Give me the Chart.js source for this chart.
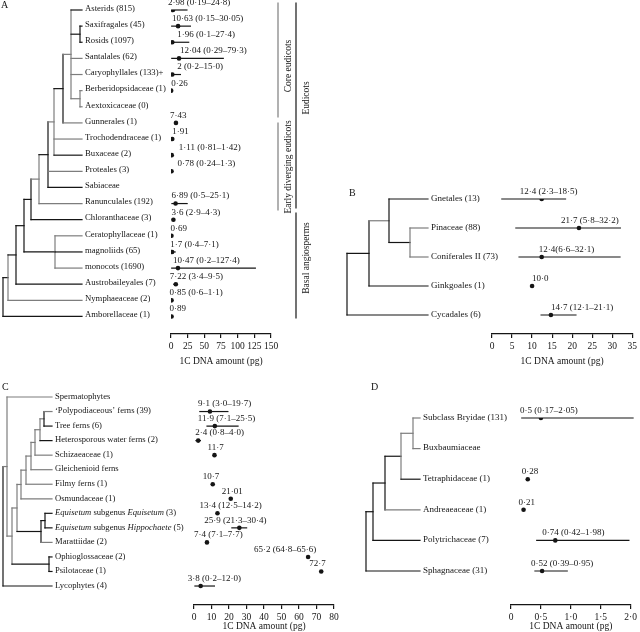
<!DOCTYPE html>
<html>
<head>
<meta charset="utf-8">
<script src="https://cdn.jsdelivr.net/npm/chart.js@4.4.0/dist/chart.umd.min.js"></script>
<style>
html, body { margin: 0; padding: 0; background: #fff; }
#wrap { position: relative; width: 640px; height: 632px; overflow: hidden; }
canvas { position: absolute; left: 0; top: 0; }
</style>
</head>
<body>
<div id="wrap">
  <canvas id="chartA" width="640" height="632"></canvas>
  <canvas id="chartB" width="640" height="632"></canvas>
  <canvas id="chartC" width="640" height="632"></canvas>
  <canvas id="chartD" width="640" height="632"></canvas>
</div>
<script>
// Panel A - angiosperms
var aNames = ['Asterids (815)', 'Saxifragales (45)', 'Rosids (1097)', 'Santalales (62)', 'Caryophyllales (133)+',
  'Berberidopsidaceae (1)', 'Aextoxicaceae (0)', 'Gunnerales (1)', 'Trochodendraceae (1)', 'Buxaceae (2)',
  'Proteales (3)', 'Sabiaceae', 'Ranunculales (192)', 'Chloranthaceae (3)', 'Ceratophyllaceae (1)',
  'magnoliids (65)', 'monocots (1690)', 'Austrobaileyales (7)', 'Nymphaeaceae (2)', 'Amborellaceae (1)'];
var aValues = [2.98, 10.63, 1.96, 12.04, 2, 0.26, null, 7.43, 1.91, 1.11, 0.78, null, 6.89, 3.6, 0.69, 1.7, 10.47, 7.22, 0.85, 0.89];
var aLow = [0.19, 0.15, 0.1, 0.29, 0.2, null, null, null, null, 0.81, 0.24, null, 0.5, 2.9, null, 0.4, 0.2, 3.4, 0.6, null];
var aHigh = [24.8, 30.05, 27.4, 79.3, 15.0, null, null, null, null, 1.42, 1.3, null, 25.1, 4.3, null, 7.1, 127.4, 9.5, 1.1, null];
var aLabels = ['2·98 (0·19–24·8)', '10·63 (0·15–30·05)', '1·96 (0·1–27·4)', '12·04 (0·29–79·3)', '2 (0·2–15·0)',
  '0·26', '', '7·43', '1·91', '1·11 (0·81–1·42)', '0·78 (0·24–1·3)', '', '6·89 (0·5–25·1)', '3·6 (2·9–4·3)',
  '0·69', '1·7 (0·4–7·1)', '10·47 (0·2–127·4)', '7·22 (3·4–9·5)', '0·85 (0·6–1·1)', '0·89'];
var aTicks = [0, 25, 50, 75, 100, 125, 150];
var aTickLabels = ['0', '25', '50', '75', '100', '125', '150'];

// Panel B - gymnosperms
var bNames = ['Gnetales (13)', 'Pinaceae (88)', 'Coniferales II (73)', 'Ginkgoales (1)', 'Cycadales (6)'];
var bValues = [12.4, 21.7, 12.4, 10.0, 14.7];
var bLow = [2.3, 5.8, 6.6, null, 12.1];
var bHigh = [18.5, 32.2, 32.1, null, 21.1];
var bLabels = ['12·4 (2·3–18·5)', '21·7 (5·8–32·2)', '12·4(6·6–32·1)', '10·0', '14·7 (12·1–21·1)'];
var bTicks = [0, 5, 10, 15, 20, 25, 30, 35];
var bTickLabels = ['0', '5', '10', '15', '20', '25', '30', '35'];

// Panel C - ferns and lycophytes (*...* = italic)
var cNames = ['Spermatophytes', '‘Polypodiaceous’ ferns (39)', 'Tree ferns (6)', 'Heterosporous water ferns (2)',
  'Schizaeaceae (1)', 'Gleichenioid ferns', 'Filmy ferns (1)', 'Osmundaceae (1)',
  '*Equisetum* subgenus *Equisetum* (3)', '*Equisetum* subgenus *Hippochaete* (5)', 'Marattiidae (2)',
  'Ophioglossaceae (2)', 'Psilotaceae (1)', 'Lycophytes (4)'];
var cValues = [null, 9.1, 11.9, 2.4, 11.7, null, 10.7, 21.01, 13.4, 25.9, 7.4, 65.2, 72.7, 3.8];
var cLow = [null, 3.0, 7.1, 0.8, null, null, null, null, 12.5, 21.3, 7.1, 64.8, null, 0.2];
var cHigh = [null, 19.7, 25.5, 4.0, null, null, null, null, 14.2, 30.4, 7.7, 65.6, null, 12.0];
var cLabels = ['', '9·1 (3·0–19·7)', '11·9 (7·1–25·5)', '2·4 (0·8–4·0)', '11·7', '', '10·7', '21·01',
  '13·4 (12·5–14·2)', '25·9 (21·3–30·4)', '7·4 (7·1–7·7)', '65·2 (64·8–65·6)', '72·7', '3·8 (0·2–12·0)'];
var cTicks = [0, 10, 20, 30, 40, 50, 60, 70, 80];
var cTickLabels = ['0', '10', '20', '30', '40', '50', '60', '70', '80'];

// Panel D - mosses
var dNames = ['Subclass Bryidae (131)', 'Buxbaumiaceae', 'Tetraphidaceae (1)', 'Andreaeaceae (1)', 'Polytrichaceae (7)', 'Sphagnaceae (31)'];
var dValues = [0.5, null, 0.28, 0.21, 0.74, 0.52];
var dLow = [0.17, null, null, null, 0.42, 0.39];
var dHigh = [2.05, null, null, null, 1.98, 0.95];
var dLabels = ['0·5 (0·17–2·05)', '', '0·28', '0·21', '0·74 (0·42–1·98)', '0·52 (0·39–0·95)'];
var dTicks = [0, 0.5, 1, 1.5, 2];
var dTickLabels = ['0', '0·5', '1·0', '1·5', '2·0'];

var FONT = '"Liberation Serif", "Times New Roman", serif';
var INK = '#151515';
var GREY = '#7d7d7d';

// tree helpers: L = leaf row, N = internal node at x
function L(i, c) { return { leaf: i, c: c }; }
function N(x, c, kids, hc) { return { x: x, c: c, kids: kids, hc: hc }; }
var k = INK, g = GREY;

var treeA = N(3, k, [
  N(8, g, [
    N(16, k, [
      N(24, k, [
        N(31, k, [
          N(39, g, [
            N(48, k, [
              N(54, g, [
                N(63, k, [
                  N(71, g, [L(0, k), N(80, k, [L(1, k), L(2, k)], k), L(3, g), L(4, g), N(80, g, [L(5, g), L(6, g)], g)], g),
                  L(7, g)
                ], k),
                L(8, g), L(9, k)
              ], g),
              L(10, g), L(11, k)
            ], k),
            L(12, g)
          ], g),
          L(13, k)
        ], k),
        N(55, g, [L(14, g), L(15, k), L(16, g)], k)
      ], k),
      L(17, k)
    ], k),
    L(18, g)
  ], k),
  L(19, k)
], null);

var treeB = N(347, k, [
  N(369, k, [
    N(389, k, [L(0, k), N(410, g, [L(1, g), L(2, g)], k)], g),
    L(3, k)
  ], k),
  L(4, k)
], null);

var treeC = N(3, k, [
  N(7, g, [
    L(0, g),
    N(12, g, [
      N(17, g, [
        N(21, g, [
          N(26, g, [
            N(31, g, [
              N(35, g, [
                N(40, g, [
                  N(44, k, [L(1, g), L(2, k)], g),
                  L(3, k)
                ], g),
                L(4, g)
              ], g),
              L(5, g)
            ], g),
            L(6, g)
          ], g),
          L(7, g)
        ], g),
        N(41, k, [N(45, k, [L(8, k), L(9, k)], k), L(10, g)], k)
      ], g),
      N(49, k, [L(11, k), L(12, k)], k)
    ], g)
  ], g),
  L(13, k)
], null);

var treeD = N(366, k, [
  N(373, k, [
    N(385, k, [
      N(401, g, [N(413, g, [L(0, g), L(1, g)], g), L(2, k)], k),
      L(3, g)
    ], k),
    L(4, k)
  ], k),
  L(5, k)
], null);

function line(ctx, x1, y1, x2, y2, col) {
  ctx.strokeStyle = col;
  ctx.lineWidth = 1.2;
  ctx.beginPath();
  ctx.moveTo(x1, y1);
  ctx.lineTo(x2, y2);
  ctx.stroke();
}

function placeTree(n, yOf) {
  if (n.leaf !== undefined) { n.y = yOf(n.leaf); return; }
  n.kids.forEach(function (kid) { placeTree(kid, yOf); });
  n.y = (n.kids[0].y + n.kids[n.kids.length - 1].y) / 2;
}

function drawTree(ctx, n, parentX, leafEnd) {
  if (parentX !== null) {
    var endX = n.leaf !== undefined ? leafEnd : n.x;
    line(ctx, parentX, n.y, endX, n.y, n.leaf !== undefined ? n.c : n.hc);
  }
  if (n.kids) {
    line(ctx, n.x, n.kids[0].y, n.x, n.kids[n.kids.length - 1].y, n.c);
    n.kids.forEach(function (kid) { drawTree(ctx, kid, n.x, leafEnd); });
  }
}

function richText(ctx, text, x, y, size) {
  var parts = text.split('*');
  parts.forEach(function (p, idx) {
    ctx.font = (idx % 2 ? 'italic ' : '') + size + 'px ' + FONT;
    ctx.fillText(p, x, y);
    x += ctx.measureText(p).width;
  });
}

function panelPlugin(geo, d) {
  return {
    id: 'panel' + geo.letter,
    beforeDatasetsDraw: function (chart) {
      var ctx = chart.ctx, xs = chart.scales.x, ys = chart.scales.y;
      ctx.save();
      d.low.forEach(function (lo, i) {
        if (lo === null) return;
        var y = ys.getPixelForValue(i);
        line(ctx, xs.getPixelForValue(lo), y, xs.getPixelForValue(d.high[i]), y, INK);
      });
      ctx.restore();
    },
    afterDraw: function (chart) {
      var ctx = chart.ctx, xs = chart.scales.x, ys = chart.scales.y;
      ctx.save();
      // tree
      placeTree(d.tree, function (i) { return ys.getPixelForValue(i); });
      ctx.lineCap = 'square';
      drawTree(ctx, d.tree, null, geo.leafEnd);
      // taxon names
      ctx.fillStyle = INK;
      ctx.textBaseline = 'middle';
      ctx.textAlign = 'left';
      d.names.forEach(function (nm, i) {
        richText(ctx, nm, geo.nameX, ys.getPixelForValue(i) + geo.nameDy, geo.nameSize);
      });
      // value labels above the dots
      ctx.font = '9px ' + FONT;
      d.labels.forEach(function (lb, i) {
        if (!lb) return;
        ctx.fillText(lb, xs.getPixelForValue(d.values[i]) + d.dx[i], ys.getPixelForValue(i) - 7.5);
      });
      // panel letter
      ctx.font = '10px ' + FONT;
      ctx.fillText(geo.letter, geo.lx, geo.ly);
      if (geo.extra) geo.extra(ctx);
      ctx.restore();
    }
  };
}

function makePanel(id, geo, d) {
  var pts = [];
  d.values.forEach(function (v, i) { if (v !== null) pts.push({ x: v, y: i }); });
  var ymax = (geo.axisY - geo.top) / geo.step;
  return new Chart(document.getElementById(id), {
    type: 'scatter',
    data: { datasets: [{ data: pts, pointRadius: 2.3, pointBackgroundColor: INK, pointBorderWidth: 0 }] },
    options: {
      responsive: false,
      animation: false,
      events: [],
      layout: { padding: { left: geo.x0, right: 640 - geo.x1, top: geo.top, bottom: 632 - geo.axisY - geo.H } },
      plugins: { legend: { display: false }, tooltip: { enabled: false } },
      scales: {
        x: {
          type: 'linear',
          min: d.ticks[0],
          max: d.ticks[d.ticks.length - 1],
          afterBuildTicks: function (s) { s.ticks = d.ticks.map(function (v) { return { value: v }; }); },
          afterFit: function (s) { s.height = geo.H; },
          ticks: {
            autoSkip: false, maxRotation: 0, padding: 3, color: INK,
            font: { family: FONT, size: 9.5 },
            callback: function (v, idx) { return d.tickLabels[idx]; }
          },
          grid: { drawOnChartArea: false, drawTicks: true, tickLength: 4, color: INK, lineWidth: 1.2 },
          border: { display: true, color: INK, width: 1.2 },
          title: { display: true, text: '1C DNA amount (pg)', color: INK, font: { family: FONT, size: 9.5 }, padding: 0 }
        },
        y: { type: 'linear', display: false, min: 0, max: ymax, reverse: true }
      }
    },
    plugins: [panelPlugin(geo, d)]
  });
}

function bracket(ctx, x, y1, y2, col, text, tx, ty) {
  line(ctx, x, y1, x, y2, col);
  ctx.save();
  ctx.translate(tx, ty);
  ctx.rotate(-Math.PI / 2);
  ctx.textAlign = 'center';
  ctx.textBaseline = 'middle';
  ctx.fillStyle = INK;
  ctx.font = '9.5px ' + FONT;
  ctx.fillText(text, 0, 0);
  ctx.restore();
}

makePanel('chartA', {
  letter: 'A', lx: 1, ly: 5, x0: 171, x1: 271, top: 10, step: 16.13, axisY: 334, H: 33,
  leafEnd: 82, nameX: 85, nameDy: -1.5, nameSize: 8.7,
  extra: function (ctx) {
    bracket(ctx, 278, 3, 117, GREY, 'Core eudicots', 288, 66);
    bracket(ctx, 278, 123, 210, GREY, 'Early diverging eudicots', 288, 167);
    bracket(ctx, 296, 3, 208, INK, 'Eudicots', 306, 98);
    bracket(ctx, 296, 213, 318, INK, 'Basal angiosperms', 306, 258);
  }
}, { names: aNames, values: aValues, low: aLow, high: aHigh, labels: aLabels, ticks: aTicks, tickLabels: aTickLabels,
  tree: treeA, dx: [-5, -6, 5, 1, 5, 0, 0, -6, 0, 7, 6, 0, -4, -2, -1, -2, -5, -6, -2, -2] });

makePanel('chartB', {
  letter: 'B', lx: 349, ly: 193, x0: 492, x1: 636, top: 199, step: 29, axisY: 334, H: 33,
  leafEnd: 428, nameX: 431, nameDy: -0.5, nameSize: 9
}, { names: bNames, values: bValues, low: bLow, high: bHigh, labels: bLabels, ticks: bTicks, tickLabels: bTickLabels,
  tree: treeB, dx: [-22, -18, -3, 0, 0] });

makePanel('chartC', {
  letter: 'C', lx: 2, ly: 387, x0: 194, x1: 334, top: 397, step: 14.54, axisY: 605, H: 27,
  leafEnd: 52, nameX: 55, nameDy: -0.5, nameSize: 8.6
}, { names: cNames, values: cValues, low: cLow, high: cHigh, labels: cLabels, ticks: cTicks, tickLabels: cTickLabels,
  tree: treeC, dx: [0, -12, -17, -3, -7, 0, -10, -9, -18, -35, -13, -54, -12, -13] });

makePanel('chartD', {
  letter: 'D', lx: 371, ly: 387, x0: 511, x1: 635, top: 418, step: 30.6, axisY: 605, H: 27,
  leafEnd: 420, nameX: 423, nameDy: -0.5, nameSize: 9
}, { names: dNames, values: dValues, low: dLow, high: dHigh, labels: dLabels, ticks: dTicks, tickLabels: dTickLabels,
  tree: treeD, dx: [-21, 0, -6, -5, -13, -11] });
</script>
</body>
</html>
